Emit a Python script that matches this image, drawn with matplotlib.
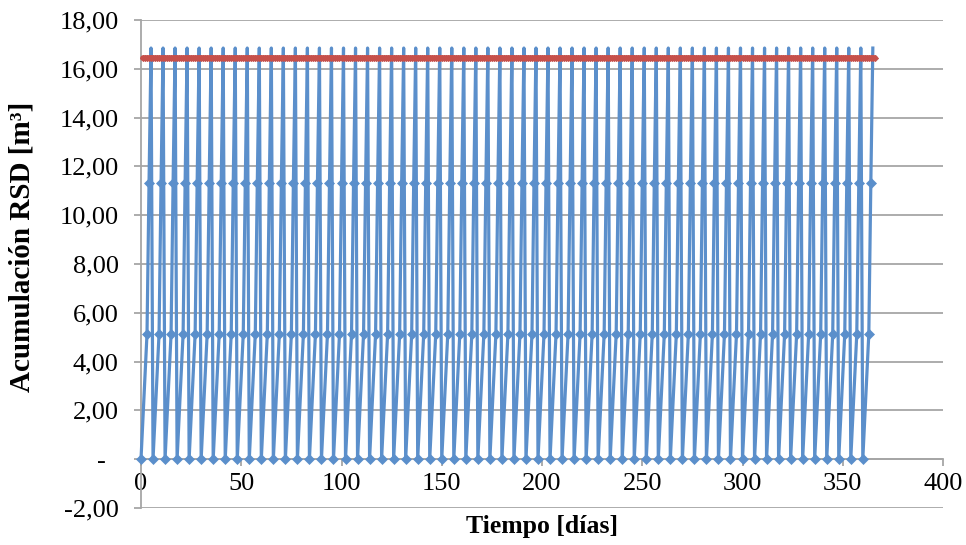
import numpy as np
import matplotlib
matplotlib.use("Agg")
import matplotlib.pyplot as plt
from matplotlib.ticker import FixedLocator, FuncFormatter

# Waste accumulation cycle: collection every 6 days
collection_days = [0, 6, 12, 18, 24, 30, 36, 42, 48, 54, 60, 66, 72, 78, 84, 90,
                   96, 102, 108, 114, 120, 126, 132, 138, 144, 150, 156, 162, 168,
                   174, 180, 186, 192, 198, 204, 210, 216, 222, 228, 234, 240, 246,
                   252, 258, 264, 270, 276, 282, 288, 294, 300, 306, 312, 318, 324,
                   330, 336, 342, 348, 354, 360]
cycle_offsets = [0, 3, 4, 5]               # days after each collection
cycle_volumes = [0.0, 5.14, 11.30, 16.85]  # accumulated volume [m3]

# Storage capacity line
capacity_days = list(range(1, 367))
capacity_value = 16.45

y_ticks = [-2, 0, 2, 4, 6, 8, 10, 12, 14, 16, 18]
x_ticks = [0, 50, 100, 150, 200, 250, 300, 350, 400]

acc_days = []
acc_vol = []
for d in collection_days:
    for off, v in zip(cycle_offsets, cycle_volumes):
        acc_days.append(d + off)
        acc_vol.append(v)

# markers on every point except the peaks (those sit under the capacity line)
marked = [i for i, v in enumerate(acc_vol) if v < max(cycle_volumes)]

BLUE = "#5B8FCB"
RED = "#C6504B"
GRID = "#A6A6A6"

plt.rcParams["font.family"] = ["Liberation Serif", "DejaVu Serif"]

fig = plt.figure(figsize=(9.66, 5.45), dpi=100)
ax = fig.add_axes([141 / 966, 1 - 508 / 545, (943 - 141) / 966, (508 - 20) / 545])

ax.plot(acc_days, acc_vol, color=BLUE, lw=2.3, marker="D", ms=4.9,
        markevery=marked, mec=BLUE, mew=0.5, zorder=3, clip_on=False)
ax.plot(capacity_days, [capacity_value] * len(capacity_days), color=RED, lw=4.0,
        marker="D", ms=3.2, mec=RED, mew=0.5, solid_capstyle="round",
        zorder=4, clip_on=False)

ax.set_xlim(0, 400)
ax.set_ylim(-2, 18)

ax.yaxis.set_major_locator(FixedLocator(y_ticks))
ax.xaxis.set_major_locator(FixedLocator(x_ticks))


def fmt_y(v, pos):
    if abs(v) < 1e-9:
        return "-  "
    return f"{v:.2f}".replace(".", ",")


ax.yaxis.set_major_formatter(FuncFormatter(fmt_y))

ax.grid(axis="y", color=GRID, lw=1.3, zorder=0)
ax.set_axisbelow(True)

for s in ("top", "right"):
    ax.spines[s].set_visible(False)
ax.spines["bottom"].set_position(("data", 0))
ax.spines["bottom"].set_color(GRID)
ax.spines["bottom"].set_linewidth(1.3)
ax.spines["left"].set_color(GRID)
ax.spines["left"].set_linewidth(1.3)

ax.tick_params(axis="y", direction="out", length=5, width=1.3, color=GRID,
               labelsize=19, pad=11)
ax.tick_params(axis="x", direction="out", length=5, width=1.3, color=GRID,
               labelsize=19, pad=5)

fig.text((141 + 943) / 2 / 966, 1 - 527 / 545, "Tiempo [días]", ha="center",
         va="center", fontsize=18.5, fontweight="bold")
fig.text(22 / 966, 1 - 247 / 545, "Acumulación RSD [m³]", ha="center",
         va="center", rotation=90, fontsize=21, fontweight="bold")

fig.savefig("out.png", dpi=100)
